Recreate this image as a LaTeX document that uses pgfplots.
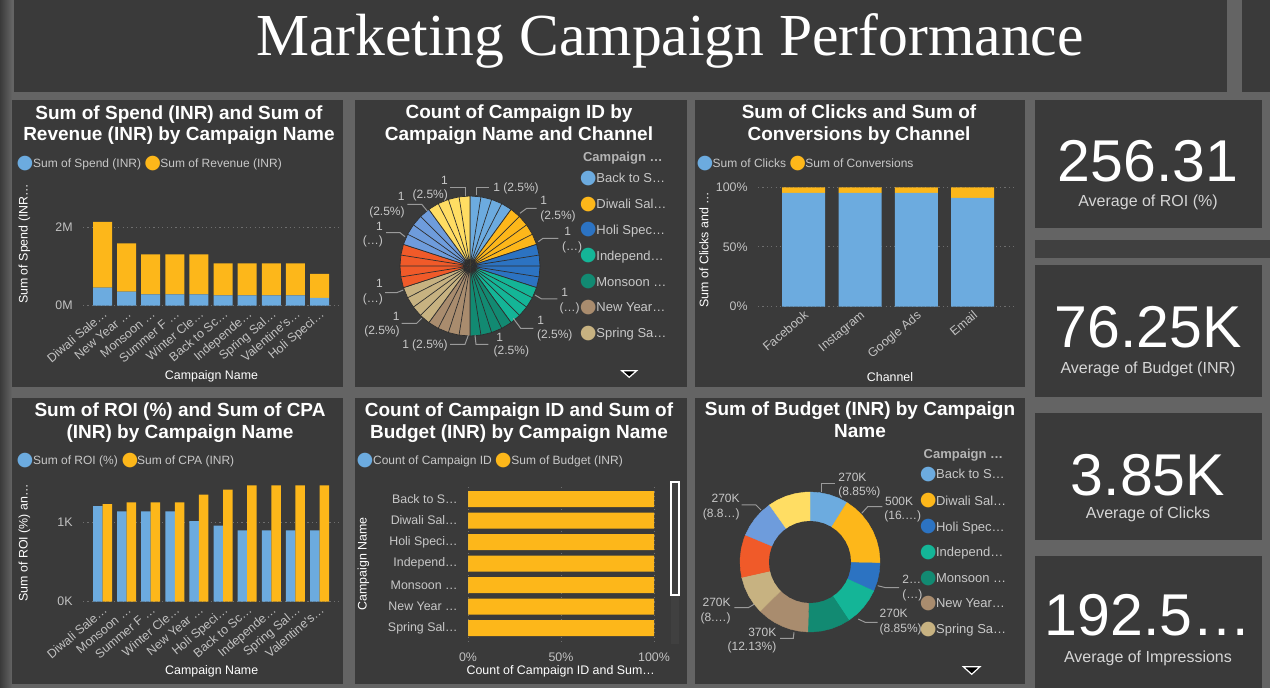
\documentclass[border=0pt]{standalone}
\usepackage{pgfplots}
\pgfplotsset{compat=1.18}
\usepgfplotslibrary{polar}
\usepackage{fontspec}
\setmainfont{Liberation Sans}
\newfontfamily\titleserif{Liberation Serif}
\newfontfamily\dv{DejaVu Sans}

\definecolor{bg}{HTML}{3A3A3A}
\definecolor{gapc}{HTML}{646464}
\definecolor{sep}{HTML}{2E2E2E}
\definecolor{cBack}{HTML}{6CABDF}
\definecolor{cDiw}{HTML}{FDB71A}
\definecolor{cHoli}{HTML}{2C73C2}
\definecolor{cInd}{HTML}{14B597}
\definecolor{cMon}{HTML}{128A72}
\definecolor{cNY}{HTML}{A98C6E}
\definecolor{cSpr}{HTML}{C7B281}
\definecolor{cSum}{HTML}{F05A29}
\definecolor{cVal}{HTML}{6E9CDC}
\definecolor{cWin}{HTML}{FFDD63}
\definecolor{tickc}{HTML}{C2C2C2}
\definecolor{legc}{HTML}{C8C8C8}
\definecolor{gridc}{HTML}{6E6E6E}
\definecolor{ldrc}{HTML}{9A9A9A}
\definecolor{kpil}{HTML}{D6D6D6}

\newcommand\dotc[1]{\textcolor{#1}{\dv\fontsize{9.6}{10}\selectfont ●}}

\tikzset{
 ttl/.style={font=\bfseries\fontsize{9.5}{11}\selectfont, text=white, inner sep=0pt, anchor=base},
 lg/.style={font=\fontsize{6}{7}\selectfont, text=legc, inner sep=0pt, anchor=west, text height=4.3pt, text depth=0pt},
 pl/.style={font=\fontsize{6}{7}\selectfont, text=legc, inner sep=0pt, text height=4.3pt, text depth=0pt},
 axt/.style={font=\fontsize{6.2}{7}\selectfont, text=white, inner sep=0pt},
 cl/.style={font=\fontsize{6.5}{7.5}\selectfont, text=legc, inner sep=0pt, anchor=west, text height=4.65pt, text depth=0pt},
 clt/.style={font=\bfseries\fontsize{6.5}{7.5}\selectfont, text=legc!90!black, inner sep=0pt, anchor=west, text height=4.65pt, text depth=0pt},
 ldr/.style={draw=ldrc, line width=0.5pt},
 kn/.style={font=\fontsize{29.5}{32}\selectfont, text=white, inner sep=0pt, anchor=base},
 kl/.style={font=\fontsize{8}{9.6}\selectfont, text=kpil, inner sep=0pt, anchor=base},
 dt/.style={inner sep=0pt, anchor=center},
}

\pgfplotsset{
 pbi/.style={
  scale only axis, axis line style={draw=none}, major tick length=0pt,
  grid style={gridc, line width=0.5pt, dash pattern=on 0.6pt off 1.6pt},
  tick label style={text=tickc, font=\fontsize{6.2}{7}\selectfont},
 },
}

\begin{document}
\begin{tikzpicture}
% ---------------- backgrounds
\begin{scope}[x=0.5pt,y=-0.5pt]
\useasboundingbox (0,0) rectangle (1270,688);
\fill[gapc] (0,0) rectangle (1270,688);
\shade[left color=bg, right color=gapc] (0,0) rectangle (12,688);
\foreach \a/\b/\c/\d in {14/0/1227/92, 1242/0/1270/92, 12/100/343/387, 355/100/687/387, 695/100/1025/387, 12/398/343/684, 355/398/687/684, 695/398/1025/684, 1035/100/1262/228, 1035/265/1262/397, 1035/413/1262/540, 1035/556/1262/688}
  \fill[bg] (\a,\b) rectangle (\c,\d);
\fill[bg!85!gapc] (1035,240) rectangle (1270,258);
\end{scope}

% ---------------- P1: spend / revenue (stacked)
\begin{axis}[pbi,
 at={(41.5pt,-152.85pt)}, anchor=south west,
 width=128.5pt, height=43.25pt,
 xmin=-0.81, xmax=9.85, ymin=0, ymax=2.2,
 ybar stacked, bar width=9.5pt,
 ytick={0,2}, yticklabels={0M,2M}, ymajorgrids,
 xtick={0,...,9},
 xticklabels={Diwali Sale…,New Year …,Monsoon …,Summer F …,Winter Cle…,Back to Sc…,Independe…,Spring Sal…,Valentine's…,Holi Speci…},
 x tick label style={rotate=40, anchor=north east, inner sep=1pt},
 y tick label style={inner sep=0pt, xshift=-5pt},
]
\addplot[fill=cBack, draw=none] coordinates {(0,0.46) (1,0.36) (2,0.29) (3,0.29) (4,0.29) (5,0.26) (6,0.26) (7,0.26) (8,0.26) (9,0.20)};
\addplot[fill=cDiw, draw=none] coordinates {(0,1.67) (1,1.225) (2,1.015) (3,1.015) (4,1.015) (5,0.815) (6,0.815) (7,0.815) (8,0.815) (9,0.61)};
\end{axis}

% ---------------- P3: clicks / conversions (100% stacked)
\begin{axis}[pbi,
 at={(379pt,-153.35pt)}, anchor=south west,
 width=128.5pt, height=59.7pt,
 xmin=-0.81, xmax=3.75, ymin=0, ymax=100, clip=false,
 ybar stacked, bar width=21.5pt,
 ytick={0,50,100}, yticklabels={0\%,50\%,100\%}, ymajorgrids,
 xtick={0,...,3}, xticklabels={Facebook,Instagram,Google Ads,Email},
 x tick label style={rotate=40, anchor=north east, inner sep=1pt},
 y tick label style={inner sep=0pt, xshift=-5pt},
]
\addplot[fill=cBack, draw=none] coordinates {(0,95.3) (1,95.3) (2,95.3) (3,91.1)};
\addplot[fill=cDiw, draw=none] coordinates {(0,4.7) (1,4.7) (2,4.7) (3,8.9)};
\end{axis}

% ---------------- P4: ROI / CPA (clustered)
\begin{axis}[pbi,
 at={(41.5pt,-300.85pt)}, anchor=south west,
 width=128.5pt, height=63.2pt,
 xmin=-0.81, xmax=9.85, ymin=0, ymax=1.6,
 ybar=0pt, bar width=4.75pt,
 ytick={0,1}, yticklabels={0K,1K}, ymajorgrids,
 xtick={0,...,9},
 xticklabels={Diwali Sale…,Monsoon …,Summer F …,Winter Cle…,New Year …,Holi Speci…,Back to Sc…,Independe…,Spring Sal…,Valentine's…},
 x tick label style={rotate=40, anchor=north east, inner sep=1pt},
 y tick label style={inner sep=0pt, xshift=-5pt},
]
\addplot[fill=cBack, draw=none] coordinates {(0,1.21) (1,1.143) (2,1.143) (3,1.143) (4,1.02) (5,0.962) (6,0.903) (7,0.903) (8,0.903) (9,0.903)};
\addplot[fill=cDiw, draw=none] coordinates {(0,1.236) (1,1.257) (2,1.257) (3,1.257) (4,1.354) (5,1.418) (6,1.473) (7,1.473) (8,1.473) (9,1.473)};
\end{axis}

% ---------------- P5: count / budget (100% stacked horizontal)
\begin{axis}[pbi,
 at={(234pt,-322.5pt)}, anchor=south west,
 width=93pt, height=79pt,
 xmin=0, xmax=100, ymin=-0.56, ymax=6.79, y dir=reverse,
 xbar stacked, bar width=8pt,
 xtick={0,50,100}, xticklabels={0\%,50\%,100\%}, xmajorgrids,
 ytick={0,...,6},
 yticklabels={Back to S…,Diwali Sal…,Holi Speci…,Independ…,Monsoon …,New Year …,Spring Sal…},
 y tick label style={inner sep=0pt, xshift=-5pt, text=legc},
 x tick label style={inner sep=0pt, yshift=-3.5pt},
]
\addplot[fill=cBack, draw=none] coordinates {(0.0015,0) (0.0008,1) (0.002,2) (0.0015,3) (0.0013,4) (0.0011,5) (0.0015,6)};
\addplot[fill=cDiw, draw=none] coordinates {(99.9985,0) (99.9992,1) (99.998,2) (99.9985,3) (99.9987,4) (99.9989,5) (99.9985,6)};
\end{axis}

% ---------------- P2: pie (40 campaign IDs, 4 per campaign)
\begin{polaraxis}[at={(235pt,-133pt)}, anchor=center, scale only axis,
 width=70pt, height=70pt, hide axis, ymin=0, ymax=1, clip=false]
\addplot[fill=cBack, draw=sep, line width=0.35pt] coordinates {(0,0) (90,1) (81,1) (0,0) (81,1) (72,1) (0,0) (72,1) (63,1) (0,0) (63,1) (54,1) (0,0)};
\addplot[fill=cDiw, draw=sep, line width=0.35pt] coordinates {(0,0) (54,1) (45,1) (0,0) (45,1) (36,1) (0,0) (36,1) (27,1) (0,0) (27,1) (18,1) (0,0)};
\addplot[fill=cHoli, draw=sep, line width=0.35pt] coordinates {(0,0) (18,1) (9,1) (0,0) (9,1) (0,1) (0,0) (360,1) (351,1) (0,0) (351,1) (342,1) (0,0)};
\addplot[fill=cInd, draw=sep, line width=0.35pt] coordinates {(0,0) (342,1) (333,1) (0,0) (333,1) (324,1) (0,0) (324,1) (315,1) (0,0) (315,1) (306,1) (0,0)};
\addplot[fill=cMon, draw=sep, line width=0.35pt] coordinates {(0,0) (306,1) (297,1) (0,0) (297,1) (288,1) (0,0) (288,1) (279,1) (0,0) (279,1) (270,1) (0,0)};
\addplot[fill=cNY, draw=sep, line width=0.35pt] coordinates {(0,0) (270,1) (261,1) (0,0) (261,1) (252,1) (0,0) (252,1) (243,1) (0,0) (243,1) (234,1) (0,0)};
\addplot[fill=cSpr, draw=sep, line width=0.35pt] coordinates {(0,0) (234,1) (225,1) (0,0) (225,1) (216,1) (0,0) (216,1) (207,1) (0,0) (207,1) (198,1) (0,0)};
\addplot[fill=cSum, draw=sep, line width=0.35pt] coordinates {(0,0) (198,1) (189,1) (0,0) (189,1) (180,1) (0,0) (180,1) (171,1) (0,0) (171,1) (162,1) (0,0)};
\addplot[fill=cVal, draw=sep, line width=0.35pt] coordinates {(0,0) (162,1) (153,1) (0,0) (153,1) (144,1) (0,0) (144,1) (135,1) (0,0) (135,1) (126,1) (0,0)};
\addplot[fill=cWin, draw=sep, line width=0.35pt] coordinates {(0,0) (126,1) (117,1) (0,0) (117,1) (108,1) (0,0) (108,1) (99,1) (0,0) (99,1) (90,1) (0,0)};
\end{polaraxis}

% ---------------- P6: donut of budget (K INR): 270,500,200,270,300,370,270,300,270,300
\begin{polaraxis}[at={(405pt,-281pt)}, anchor=center, scale only axis,
 width=70pt, height=70pt, hide axis, ymin=0, ymax=1, clip=false]
\addplot[fill=cBack, draw=cBack, line width=0.2pt] coordinates {(0,0) (90,1) (82,1) (74,1) (66,1) (58.13,1) (0,0)};
\addplot[fill=cDiw, draw=cDiw, line width=0.2pt] coordinates {(0,0) (58.13,1) (50,1) (42,1) (34,1) (26,1) (18,1) (10,1) (2,1) (359.12,1) (0,0)};
\addplot[fill=cHoli, draw=cHoli, line width=0.2pt] coordinates {(0,0) (359.12,1) (352,1) (344,1) (335.51,1) (0,0)};
\addplot[fill=cInd, draw=cInd, line width=0.2pt] coordinates {(0,0) (335.51,1) (328,1) (320,1) (312,1) (303.64,1) (0,0)};
\addplot[fill=cMon, draw=cMon, line width=0.2pt] coordinates {(0,0) (303.64,1) (296,1) (288,1) (280,1) (272,1) (268.23,1) (0,0)};
\addplot[fill=cNY, draw=cNY, line width=0.2pt] coordinates {(0,0) (268.23,1) (261,1) (254,1) (247,1) (240,1) (233,1) (224.56,1) (0,0)};
\addplot[fill=cSpr, draw=cSpr, line width=0.2pt] coordinates {(0,0) (224.56,1) (217,1) (209,1) (201,1) (192.69,1) (0,0)};
\addplot[fill=cSum, draw=cSum, line width=0.2pt] coordinates {(0,0) (192.69,1) (185,1) (177,1) (169,1) (161,1) (157.28,1) (0,0)};
\addplot[fill=cVal, draw=cVal, line width=0.2pt] coordinates {(0,0) (157.28,1) (150,1) (142,1) (134,1) (125.41,1) (0,0)};
\addplot[fill=cWin, draw=cWin, line width=0.2pt] coordinates {(0,0) (125.41,1) (118,1) (110,1) (102,1) (94,1) (90,1) (0,0)};
\addplot[fill=bg, draw=none] coordinates {(0,0.586) (10,0.586) (20,0.586) (30,0.586) (40,0.586) (50,0.586) (60,0.586) (70,0.586) (80,0.586) (90,0.586) (100,0.586) (110,0.586) (120,0.586) (130,0.586) (140,0.586) (150,0.586) (160,0.586) (170,0.586) (180,0.586) (190,0.586) (200,0.586) (210,0.586) (220,0.586) (230,0.586) (240,0.586) (250,0.586) (260,0.586) (270,0.586) (280,0.586) (290,0.586) (300,0.586) (310,0.586) (320,0.586) (330,0.586) (340,0.586) (350,0.586)};
\end{polaraxis}

% ---------------- texts
\begin{scope}[x=0.5pt,y=-0.5pt]
\node[anchor=base, text=white, inner sep=0pt, font=\titleserif\fontsize{29.8}{34}\selectfont] at (670,56) {Marketing Campaign Performance};

% titles
\node[ttl] at (179,120) {Sum of Spend (INR) and Sum of};
\node[ttl] at (179,141) {Revenue (INR) by Campaign Name};
\node[ttl] at (519,119) {Count of Campaign ID by};
\node[ttl] at (519,140.5) {Campaign Name and Channel};
\node[ttl] at (859,119) {Sum of Clicks and Sum of};
\node[ttl] at (859,140.5) {Conversions by Channel};
\node[ttl] at (180,417) {Sum of ROI (\%) and Sum of CPA};
\node[ttl] at (180,438.5) {(INR) by Campaign Name};
\node[ttl] at (519,417) {Count of Campaign ID and Sum of};
\node[ttl] at (519,438.5) {Budget (INR) by Campaign Name};
\node[ttl] at (860,416) {Sum of Budget (INR) by Campaign};
\node[ttl] at (860,437.5) {Name};

% bar legends
\node[dt] at (25,163.3) {\dotc{cBack}}; \node[lg] at (32.7,163.3) {Sum of Spend (INR)};
\node[dt] at (152.7,163.3) {\dotc{cDiw}}; \node[lg] at (160,163.3) {Sum of Revenue (INR)};
\node[dt] at (705,163.3) {\dotc{cBack}}; \node[lg] at (712.3,163.3) {Sum of Clicks};
\node[dt] at (797.7,163.3) {\dotc{cDiw}}; \node[lg] at (805,163.3) {Sum of Conversions};
\node[dt] at (25,460.7) {\dotc{cBack}}; \node[lg] at (32.7,460.7) {Sum of ROI (\%)};
\node[dt] at (130,460.7) {\dotc{cDiw}}; \node[lg] at (136.7,460.7) {Sum of CPA (INR)};
\node[dt] at (365,460.7) {\dotc{cBack}}; \node[lg] at (372.7,460.7) {Count of Campaign ID};
\node[dt] at (503.3,460.7) {\dotc{cDiw}}; \node[lg] at (511,460.7) {Sum of Budget (INR)};

% axis titles
\node[axt, rotate=90] at (24.3,244) {Sum of Spend (INR…};
\node[axt] at (211.5,376.7) {Campaign Name};
\node[axt, rotate=90] at (704,249.7) {Sum of Clicks and …};
\node[axt] at (890,376.7) {Channel};
\node[axt, rotate=90] at (24.3,542.8) {Sum of ROI (\%) an…};
\node[axt] at (211.7,671.7) {Campaign Name};
\node[axt, rotate=90] at (363.3,564) {Campaign Name};
\node[axt] at (560.7,671.7) {Count of Campaign ID and Sum…};

% scrollbar
\fill[black!75] (671,482) rectangle (679,644);
\draw[white, line width=0.6pt] (671,482) rectangle (679,595);

% pie labels
\draw[ldr] (476,195) -- (476,187.3) -- (489.3,187.3);
\node[pl, anchor=west] at (493,187.3) {1 (2.5\%)};
\draw[ldr] (520,213.3) -- (526.7,208.3) -- (536.7,208.3);
\node[pl, anchor=west] at (540,200.5) {1}; \node[pl, anchor=west] at (540,215) {(2.5\%)};
\draw[ldr] (538.3,241.7) -- (543,238.3) -- (558.3,238.3);
\node[pl, anchor=west] at (564,231.5) {1}; \node[pl, anchor=west] at (561.7,246) {(…)};
\draw[ldr] (535,295) -- (541.7,299) -- (557.3,299);
\node[pl, anchor=west] at (561,292) {1}; \node[pl, anchor=west] at (559.3,307) {(…)};
\draw[ldr] (513.3,318.3) -- (520.7,328.3) -- (533.3,328.3);
\node[pl, anchor=west] at (537,320) {1}; \node[pl, anchor=west] at (536.7,334.3) {(2.5\%)};
\draw[ldr] (475,335.3) -- (476,344.3) -- (488.3,344.3);
\node[pl, anchor=west] at (496,337.7) {1}; \node[pl, anchor=west] at (493.3,350.5) {(2.5\%)};
\draw[ldr] (468.3,335.3) -- (465,344.3) -- (450,344.3);
\node[pl, anchor=east] at (448,344.3) {1 (2.5\%)};
\draw[ldr] (421.7,318.3) -- (416.7,323.3) -- (401.7,323.3);
\node[pl, anchor=east] at (400,316.7) {1}; \node[pl, anchor=east] at (400,330) {(2.5\%)};
\draw[ldr] (403.3,290) -- (396.7,292.7) -- (385,292.7);
\node[pl, anchor=east] at (383.3,283.3) {1}; \node[pl, anchor=east] at (383.3,298) {(…)};
\draw[ldr] (405,236.7) -- (400,232.7) -- (386,232.7);
\node[pl, anchor=east] at (383.3,226) {1}; \node[pl, anchor=east] at (383.3,240) {(…)};
\draw[ldr] (427.3,211) -- (421.7,204.3) -- (407.3,204.3);
\node[pl, anchor=east] at (405,196.7) {1}; \node[pl, anchor=east] at (405,211) {(2.5\%)};
\draw[ldr] (465,196) -- (465,187.3) -- (450,187.3);
\node[pl, anchor=east] at (448.3,180) {1}; \node[pl, anchor=east] at (448.3,194.3) {(2.5\%)};

% pie legend
\node[clt] at (582.7,157.3) {Campaign …};
\foreach \c/\t/\y in {cBack/Back to S…/178.3, cDiw/Diwali Sal…/204.3, cHoli/Holi Spec…/230, cInd/Independ…/255.7, cMon/Monsoon …/281.7, cNY/New Year…/307.3, cSpr/Spring Sa…/333.3}{
  \node[dt] at (588.3,\y) {\dotc{\c}}; \node[cl] at (596,\y) {\t};
}
\draw[white, fill=black, line width=0.6pt] (621.7,370.7) -- (636.7,370.7) -- (629.2,377.3) -- cycle;

% donut labels
\draw[ldr] (821,491.7) -- (821,483.3) -- (835,483.3);
\node[pl, anchor=west] at (838,477) {270K}; \node[pl, anchor=west] at (838,491.7) {(8.85\%)};
\draw[ldr] (861.7,513.3) -- (867.7,506.7) -- (882.3,506.7);
\node[pl, anchor=west] at (884.7,501) {500K}; \node[pl, anchor=west] at (884,515) {(16.…)};
\draw[ldr] (877.7,585.7) -- (885.7,587.7) -- (899,587.7);
\node[pl, anchor=west] at (902,579.3) {2…}; \node[pl, anchor=west] at (902,594) {(…)};
\draw[ldr] (858.3,619) -- (865,622.3) -- (877.7,622.3);
\node[pl, anchor=west] at (879.3,613.3) {270K}; \node[pl, anchor=west] at (879.3,628) {(8.85\%)};
\draw[ldr] (794,632.3) -- (793.3,638.3) -- (780,638.3);
\node[pl, anchor=east] at (776.7,632.3) {370K}; \node[pl, anchor=east] at (776.7,646.3) {(12.13\%)};
\draw[ldr] (754,604.3) -- (748.3,607.7) -- (734.3,607.7);
\node[pl, anchor=east] at (731,602.3) {270K}; \node[pl, anchor=east] at (731,617.3) {(8.…)};
\draw[ldr] (761,510) -- (756,505) -- (741.7,505);
\node[pl, anchor=east] at (740,498.3) {270K}; \node[pl, anchor=east] at (740,513) {(8.8…)};

% donut legend
\node[clt] at (923.3,454) {Campaign …};
\foreach \c/\t/\y in {cBack/Back to S…/474.3, cDiw/Diwali Sal…/501, cHoli/Holi Spec…/526.7, cInd/Independ…/552.3, cMon/Monsoon …/578.3, cNY/New Year…/603.3, cSpr/Spring Sa…/629.3}{
  \node[dt] at (928.3,\y) {\dotc{\c}}; \node[cl] at (935.7,\y) {\t};
}
\draw[white, fill=black, line width=0.6pt] (963.3,666.7) -- (980,666.7) -- (971.7,674.3) -- cycle;

% KPI cards
\node[kn] at (1148,182) {256.31};
\node[kl] at (1148,207) {Average of ROI (\%)};
\node[kn] at (1148,348) {76.25K};
\node[kl] at (1148,374) {Average of Budget (INR)};
\node[kn] at (1148,496) {3.85K};
\node[kl] at (1148,519) {Average of Clicks};
\node[kn] at (1148,636) {192.5…};
\node[kl] at (1148,663) {Average of Impressions};
\end{scope}
\end{tikzpicture}
\end{document}
